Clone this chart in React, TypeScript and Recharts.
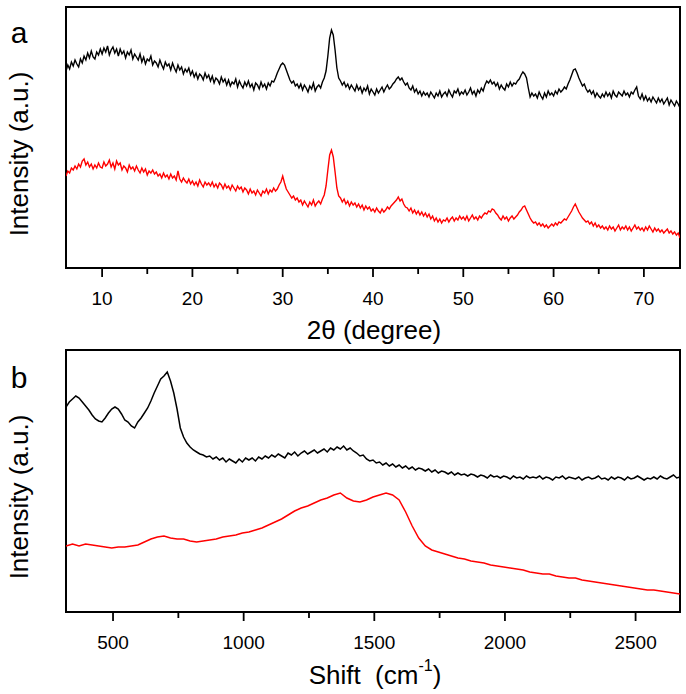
import { LineChart, Line, XAxis, YAxis, ReferenceArea } from "recharts";

// a: XRD, 2theta grid from 6 to 74 every 0.2 deg; intensities in arbitrary units
const XRD_START = 6;
const XRD_STEP = 0.2;
const XRD_BLACK = [
  197, 203, 199, 206, 202, 208, 204, 201, 209, 205,
  212, 208, 215, 210, 217, 211, 209, 216, 213, 219,
  214, 220, 216, 222, 213, 218, 221, 215, 219, 212,
  219, 214, 217, 210, 216, 213, 218, 209, 214, 211,
  208, 214, 206, 211, 204, 209, 207, 212, 203, 207,
  205, 201, 208, 203, 199, 206, 202, 204, 198, 205,
  200, 196, 203, 198, 201, 194, 199, 196, 200, 193,
  197, 191, 195, 189, 194, 192, 188, 195, 190, 193,
  187, 192, 185, 190, 188, 184, 191, 186, 189, 183,
  188, 182, 186, 184, 189, 181, 187, 183, 180, 186,
  182, 187, 181, 184, 178, 185, 183, 179, 186, 181,
  184, 179, 185, 182, 187, 186, 190, 195, 199, 203,
  205, 203, 198, 193, 188, 185, 187, 182, 184, 180,
  184, 178, 183, 180, 176, 182, 179, 185, 177, 181,
  183, 180, 186, 190, 197, 212, 230, 238, 233, 218,
  200, 190, 187, 183, 186, 181, 184, 179, 183, 180,
  177, 183, 178, 181, 175, 180, 177, 182, 174, 179,
  176, 173, 179, 175, 178, 181, 176, 180, 183, 179,
  181, 184, 186, 189, 191, 188, 190, 186, 183, 185,
  180, 178, 182, 176, 179, 174, 177, 172, 176, 173,
  175, 171, 176, 173, 170, 175, 172, 177, 171, 174,
  176, 172, 178, 174, 171, 177, 175, 179, 173, 176,
  174, 178, 173, 176, 180, 174, 177, 172, 178, 175,
  180, 177, 183, 187, 185, 188, 184, 186, 182, 185,
  179, 183, 180, 178, 184, 181, 186, 182, 185, 184,
  187, 189, 193, 196, 194, 190, 180, 171, 175, 172,
  174, 170, 176, 172, 169, 175, 171, 177, 173, 175,
  172, 177, 174, 179, 176, 178, 181, 179, 184, 188,
  193, 198, 199, 195, 190, 186, 182, 184, 179, 176,
  178, 174, 177, 171, 175, 172, 170, 174, 171, 176,
  172, 175, 170, 177, 173, 171, 176, 174, 172, 177,
  173, 175, 171, 176, 174, 178, 181, 172, 169, 174,
  168, 172, 167, 170, 166, 171, 168, 165, 170, 166,
  169, 164, 167, 170, 163, 168, 165, 162, 167, 164,
  160,
];
const XRD_RED = [
  92, 97, 95, 100, 98, 102, 99, 104, 101, 107,
  109, 103, 106, 101, 104, 99, 103, 100, 105, 101,
  100, 106, 102, 104, 108, 101, 105, 99, 107, 103,
  105, 98, 102, 100, 96, 103, 99, 101, 97, 102,
  98, 95, 100, 96, 99, 93, 97, 95, 98, 94,
  96, 92, 94, 90, 95, 91, 93, 89, 94, 90,
  92, 88, 97, 89, 86, 90, 87, 85, 89, 84,
  87, 83, 86, 82, 88, 84, 81, 86, 83, 85,
  82, 86, 81, 84, 80, 85, 83, 79, 84, 80,
  82, 78, 83, 80, 77, 82, 79, 81, 76, 80,
  78, 74, 79, 75, 77, 73, 78, 75, 72, 77,
  75, 79, 74, 78, 76, 80, 77, 79, 83, 86,
  92, 85, 79, 76, 73, 70, 72, 68, 70, 66,
  68, 63, 67, 64, 61, 66, 63, 68, 62, 65,
  67, 64, 69, 73, 82, 98, 113, 118, 111, 96,
  80, 72, 70, 66, 69, 64, 67, 62, 66, 63,
  65, 61, 64, 60, 63, 58, 62, 59, 61, 57,
  59, 56, 60, 57, 55, 59, 56, 58, 61, 59,
  62, 64, 66, 68, 71, 67, 69, 64, 61, 60,
  57, 60, 55, 58, 54, 57, 53, 56, 52, 55,
  51, 54, 49, 52, 47, 50, 46, 49, 45, 48,
  47, 50, 46, 49, 51, 47, 50, 48, 52, 49,
  51, 48, 52, 47, 50, 53, 49, 51, 48, 52,
  50, 53, 55, 54, 57, 56, 59, 58, 55, 53,
  50, 48, 52, 49, 51, 47, 50, 52, 49, 51,
  53, 56, 58, 61, 62, 58, 54, 50, 47, 45,
  46, 43, 45, 42, 44, 41, 43, 40, 42, 44,
  42, 45, 43, 46, 45, 47, 49, 48, 51, 54,
  57, 61, 64, 60, 56, 53, 50, 48, 46, 47,
  44, 46, 42, 45, 41, 43, 40, 42, 39, 41,
  38, 42, 39, 41, 37, 40, 43, 38, 41, 39,
  42, 38, 41, 37, 40, 43, 39, 41, 38, 40,
  37, 41, 38, 42, 39, 36, 40, 37, 39, 36,
  38, 35, 37, 39, 35, 37, 34, 36, 33, 35,
  30,
];
const XRD_TICKS = [10, 15, 20, 25, 30, 35, 40, 45, 50, 55, 60, 65, 70];
const XRD_LABELS = [10, 20, 30, 40, 50, 60, 70];

// b: Raman shift; black sampled every 12.5 cm-1, red every 25 cm-1, both from 320
const RAMAN_START = 320;
const RAMAN_BLACK_STEP = 12.5;
const RAMAN_RED_STEP = 25;
const RAMAN_BLACK = [
  205, 210, 213, 216, 214, 210, 206, 202,
  197, 193, 191, 190, 194, 199, 203, 205,
  203, 198, 192, 190, 186, 184, 190, 194,
  199, 204, 211, 219, 226, 233, 236, 240,
  231, 219, 203, 184, 175, 169, 165, 162,
  160, 158, 157, 155, 156, 153, 155, 152,
  154, 150, 153, 151, 149, 153, 150, 154,
  152, 154, 151, 155, 153, 156, 154, 157,
  155, 158, 156, 154, 159, 157, 160, 156,
  159, 161, 158, 160, 162, 159, 161, 163,
  160, 164, 162, 165, 163, 166, 162, 164,
  161, 159, 156, 157, 153, 151, 152, 149,
  150, 147, 149, 146, 148, 145, 147, 144,
  146, 143, 145, 142, 144, 143, 141, 143,
  140, 142, 139, 141, 140, 138, 140, 137,
  139, 137, 138, 136, 138, 137, 135, 137,
  136, 134, 137, 135, 136, 134, 136, 135,
  133, 136, 134, 135, 133, 136, 134, 135,
  134, 136, 133, 135, 134, 132, 135, 134,
  136, 133, 135, 134, 133, 135, 132, 134,
  135, 133, 134, 136, 133, 134, 132, 135,
  133, 135, 134, 132, 135, 133, 134, 136,
  134, 132, 134, 133, 135, 133, 136, 134,
  133, 135, 137, 134, 135,
];
const RAMAN_RED = [
  66, 68, 66, 68, 67, 66, 65, 64, 65, 65,
  66, 67, 70, 73, 75, 76, 74, 73, 73, 71,
  70, 71, 72, 73, 75, 76, 77, 79, 80, 82,
  84, 87, 90, 93, 97, 101, 104, 106, 109, 112,
  114, 117, 119, 114, 111, 110, 112, 115, 117, 119,
  117, 112, 100, 86, 74, 66, 62, 60, 58, 56,
  54, 53, 51, 50, 49, 47, 46, 45, 44, 43,
  42, 40, 39, 38, 38, 36, 35, 34, 34, 32,
  31, 30, 29, 28, 27, 26, 25, 24, 23, 22,
  22, 21, 20, 19, 18,
];
const RAMAN_TICKS = [500, 750, 1000, 1250, 1500, 1750, 2000, 2250, 2500];
const RAMAN_LABELS = [500, 1000, 1500, 2000, 2500];

const FONT = "'Liberation Sans', Arial, sans-serif";

const xrdData = XRD_BLACK.map((v, i) => ({
  x: +(XRD_START + i * XRD_STEP).toFixed(1),
  black: v,
  red: XRD_RED[i],
}));
const ramanBlack = RAMAN_BLACK.map((v, i) => ({ x: RAMAN_START + i * RAMAN_BLACK_STEP, black: v }));
const ramanRed = RAMAN_RED.map((v, i) => ({ x: RAMAN_START + i * RAMAN_RED_STEP, red: v }));

const makeTick = (labeled: number[]) => (props: any) => {
  const { x, y, payload } = props;
  const major = labeled.includes(payload.value);
  return (
    <g>
      <line x1={x} x2={x} y1={y} y2={y + (major ? 9 : 6)} stroke="#000" strokeWidth={1.8} />
      {major && (
        <text x={x} y={y + 30} textAnchor="middle" dominantBaseline="central" fontSize={19} fill="#000" fontFamily={FONT}>
          {payload.value}
        </text>
      )}
    </g>
  );
};

const yTitle = (cy: number) => (
  <text
    x={19}
    y={cy}
    transform={`rotate(-90, 19, ${cy})`}
    textAnchor="middle"
    dominantBaseline="central"
    fontSize={26}
    fill="#000"
    fontFamily={FONT}
  >
    Intensity (a.u.)
  </text>
);

export default function App() {
  return (
    <div style={{ position: "absolute", left: 0, top: 0, width: 686, height: 694, background: "#fff" }}>
      <div style={{ position: "absolute", left: 0, top: 0 }}>
        <LineChart width={686} height={345} data={xrdData} margin={{ top: 7, right: 6, left: 66, bottom: 0 }}>
          <XAxis
            dataKey="x"
            type="number"
            domain={[6, 74]}
            ticks={XRD_TICKS}
            interval={0}
            height={77}
            axisLine={false}
            tickLine={false}
            tickSize={0}
            tickMargin={0}
            tick={makeTick(XRD_LABELS)}
            allowDataOverflow
          />
          <YAxis hide domain={[0, 261]} allowDataOverflow />
          <Line type="linear" dataKey="black" stroke="#000" strokeWidth={1.4} dot={false} isAnimationActive={false} />
          <Line type="linear" dataKey="red" stroke="#ff0000" strokeWidth={1.4} dot={false} isAnimationActive={false} />
          <ReferenceArea x1={6} x2={74} y1={0} y2={261} fill="none" stroke="#000" strokeWidth={2} ifOverflow="visible" />
          <text x={19} y={43} textAnchor="middle" fontSize={30} fill="#000" fontFamily={FONT}>a</text>
          {yTitle(154)}
          <text x={374} y={330} textAnchor="middle" dominantBaseline="central" fontSize={26} fill="#000" fontFamily={FONT}>
            2θ (degree)
          </text>
        </LineChart>
      </div>
      <div style={{ position: "absolute", left: 0, top: 345 }}>
        <LineChart width={686} height={349} margin={{ top: 5, right: 6, left: 66, bottom: 0 }}>
          <XAxis
            dataKey="x"
            type="number"
            domain={[320, 2670]}
            ticks={RAMAN_TICKS}
            interval={0}
            height={82}
            axisLine={false}
            tickLine={false}
            tickSize={0}
            tickMargin={0}
            tick={makeTick(RAMAN_LABELS)}
            allowDataOverflow
          />
          <YAxis hide domain={[0, 262]} allowDataOverflow />
          <Line data={ramanBlack} type="linear" dataKey="black" stroke="#000" strokeWidth={1.5} dot={false} isAnimationActive={false} />
          <Line data={ramanRed} type="linear" dataKey="red" stroke="#ff0000" strokeWidth={1.5} dot={false} isAnimationActive={false} />
          <ReferenceArea x1={320} x2={2670} y1={0} y2={262} fill="none" stroke="#000" strokeWidth={2} ifOverflow="visible" />
          <text x={19} y={43} textAnchor="middle" fontSize={30} fill="#000" fontFamily={FONT}>b</text>
          {yTitle(152)}
          <text x={375} y={330} textAnchor="middle" dominantBaseline="central" fontSize={26} fill="#000" fontFamily={FONT} style={{ whiteSpace: "pre" }}>
            Shift  (cm<tspan dy={-10} fontSize={16}>-1</tspan><tspan dy={10}>)</tspan>
          </text>
        </LineChart>
      </div>
    </div>
  );
}
